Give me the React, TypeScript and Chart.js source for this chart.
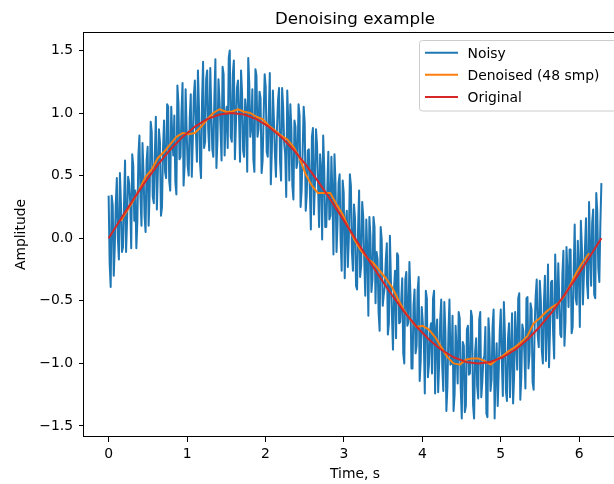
import React, { useEffect, useRef } from 'react';
import { Chart, registerables } from 'chart.js';

Chart.register(...registerables);

// ---- text ----
const TITLE = 'Denoising example';
const X_LABEL = 'Time, s';
const Y_LABEL = 'Amplitude';
const SERIES_NAMES = ['Noisy', 'Denoised (48 smp)', 'Original'];
const SERIES_COLORS = ['#1f77b4', '#ff7f0e', '#d62728'];

// ---- axes ----
const X_TICKS = [0, 1, 2, 3, 4, 5, 6];
const Y_TICKS = [-1.5, -1.0, -0.5, 0.0, 0.5, 1.0, 1.5];
const X_MIN = -0.314;
const X_MAX = 6.597;
const Y_MIN = -1.588;
const Y_MAX = 1.647;

// ---- time grids (start, end of each series) ----
const NOISY_SPAN = [0, 6.2832];
const DENOISED_SPAN = [0.157, 6.126];
const ORIGINAL_SPAN = [0, 6.2832];

// ---- series values ----
const noisy = [
  0.34, -0.20, -0.39, 0.34, 0.26, -0.30, -0.07, 0.28, 0.48, 0.00, -0.17, 0.52, 0.28, -0.11, -0.07, 0.27, 0.62, -0.11, 0.15, 0.49,
  0.44, 0.29, -0.08, 0.67, 0.58, 0.14, 0.38, -0.08, 0.14, 0.66, 0.82, 0.34, 0.10, 0.76, 0.52, 0.18, 0.05, 0.62, 0.73, 0.10,
  0.38, 0.93, 0.85, 0.33, 0.28, 0.67, 0.97, 0.23, 0.54, 0.87, 0.77, 0.18, 0.25, 0.72, 0.94, 0.53, 0.48, 1.07, 1.05, 0.46,
  0.38, 1.05, 0.81, 0.66, 0.98, 0.45, 0.35, 1.22, 1.08, 0.63, 0.65, 1.01, 1.24, 0.42, 0.58, 1.19, 0.86, 0.58, 0.50, 0.96,
  1.15, 0.49, 0.78, 1.14, 1.26, 0.86, 0.61, 1.34, 1.05, 0.61, 0.48, 1.10, 1.41, 0.72, 0.77, 1.27, 1.34, 0.87, 0.70, 1.36,
  1.03, 0.71, 0.65, 1.12, 1.43, 0.56, 0.78, 1.27, 1.10, 0.88, 0.62, 1.37, 1.31, 0.66, 0.97, 1.05, 0.72, 1.44, 1.50, 0.81,
  0.77, 1.31, 1.42, 0.63, 0.91, 1.20, 1.26, 0.98, 0.61, 1.34, 1.16, 0.70, 0.65, 1.11, 1.01, 0.53, 1.44, 1.24, 0.81, 0.89,
  1.19, 0.63, 0.53, 1.35, 1.30, 0.81, 0.87, 1.17, 1.12, 0.52, 0.62, 0.98, 1.31, 1.21, 0.69, 0.65, 0.99, 1.32, 0.43, 0.70,
  1.18, 0.95, 0.67, 0.49, 0.88, 1.10, 1.20, 0.61, 0.46, 1.20, 1.05, 0.76, 0.67, 0.33, 1.18, 0.93, 0.46, 1.07, 0.88, 0.42,
  0.31, 0.94, 0.89, 0.56, 0.61, 1.07, 0.98, 0.25, 0.38, 0.69, 1.05, 0.92, 0.22, 0.35, 0.70, 0.71, 0.39, 0.07, 0.81, 0.88,
  0.19, 0.44, 0.87, 0.75, 0.43, 0.09, 0.67, 0.55, -0.01, 0.82, 0.56, 0.09, 0.09, 0.39, 0.69, 0.15, 0.18, 0.65, 0.35, -0.13,
  0.67, 0.44, -0.11, 0.13, 0.44, 0.51, -0.01, -0.26, 0.46, 0.36, -0.32, 0.13, 0.22, -0.23, 0.00, 0.51, 0.42, -0.11, -0.26, 0.27,
  0.16, -0.38, -0.41, 0.08, 0.38, -0.31, -0.22, 0.29, 0.17, -0.18, -0.46, 0.15, -0.11, -0.62, 0.17, 0.02, -0.43, -0.33, 0.17, 0.09,
  -0.52, -0.11, -0.17, -0.60, -0.74, 0.09, -0.01, -0.54, -0.45, -0.39, -0.17, -0.04, -0.77, -0.68, 0.02, -0.34, -0.63, -0.89, -0.40, -0.26,
  -0.80, -0.12, -0.14, -0.68, -0.67, -0.50, -0.32, -0.92, -1.00, -0.33, -0.27, -0.70, -0.67, -0.19, -0.46, -1.04, -1.04, -0.54, -0.41, -0.92,
  -0.86, -0.42, -0.31, -1.14, -0.98, -0.55, -0.67, -0.81, -1.24, -0.42, -0.48, -1.11, -1.01, -0.74, -0.68, -1.08, -0.48, -0.42, -1.24, -0.75,
  -0.65, -1.23, -0.99, -0.65, -0.49, -1.03, -1.22, -0.51, -0.74, -1.38, -1.19, -0.76, -0.49, -1.01, -1.00, -0.62, -1.38, -1.25, -0.70, -0.91,
  -1.16, -0.59, -0.64, -1.20, -1.44, -0.83, -0.86, -1.39, -1.34, -0.73, -0.70, -1.09, -1.08, -0.58, -0.63, -1.33, -1.44, -0.91, -0.80, -1.18,
  -1.28, -0.65, -0.59, -1.27, -1.15, -0.97, -0.94, -0.71, -1.40, -1.43, -0.64, -0.80, -1.22, -1.13, -0.71, -0.57, -1.44, -1.04, -0.84, -1.34,
  -1.06, -0.74, -0.57, -0.97, -1.26, -0.51, -0.76, -1.22, -1.30, -0.81, -0.68, -1.27, -0.89, -0.60, -1.32, -1.10, -0.59, -0.82, -1.05, -0.48,
  -0.44, -1.29, -1.11, -0.69, -0.74, -0.92, -1.20, -0.48, -0.47, -1.04, -0.92, -0.52, -0.57, -1.15, -1.21, -0.70, -0.46, -0.33, -0.78, -0.87,
  -0.34, -0.49, -0.90, -1.00, -0.52, -0.30, -0.98, -0.69, -0.21, -1.03, -0.71, -0.35, -0.34, -0.76, -0.96, -0.13, -0.47, -0.64, -0.20, -0.49,
  -0.77, -0.79, -0.29, -0.10, -0.86, -0.67, -0.07, -0.28, -0.55, -0.09, -0.09, -0.76, -0.71, -0.26, 0.11, -0.48, -0.53, -0.02, -0.24, -0.71,
  0.14, -0.07, -0.53, -0.29, -0.08, 0.16, -0.36, -0.48, 0.29, -0.10, -0.38, 0.12, 0.23, -0.45, -0.48, 0.36, 0.21, -0.24, -0.35, 0.11,
  0.44,
];

const denoised = [
  0.14, 0.22, 0.30, 0.39, 0.49, 0.55, 0.64, 0.69, 0.75, 0.81,
  0.84, 0.83, 0.84, 0.89, 0.95, 1.00, 1.03, 1.01, 1.01, 1.03,
  1.01, 1.00, 0.97, 0.95, 0.90, 0.86, 0.82, 0.79, 0.73, 0.64,
  0.51, 0.42, 0.36, 0.36, 0.36, 0.27, 0.19, 0.08, -0.02, -0.10,
  -0.16, -0.20, -0.26, -0.32, -0.39, -0.49, -0.58, -0.65, -0.71, -0.70,
  -0.73, -0.79, -0.87, -0.95, -1.00, -1.01, -0.97, -0.96, -0.96, -0.98,
  -1.01, -0.97, -0.94, -0.90, -0.87, -0.83, -0.78, -0.68, -0.64, -0.59,
  -0.55, -0.52, -0.46, -0.37, -0.27, -0.19, -0.12,
];

const original = [
  0.0, 0.156, 0.309, 0.454, 0.588, 0.707, 0.809, 0.891, 0.951, 0.988,
  1.0, 0.988, 0.951, 0.891, 0.809, 0.707, 0.588, 0.454, 0.309, 0.156,
  0.0, -0.156, -0.309, -0.454, -0.588, -0.707, -0.809, -0.891, -0.951, -0.988,
  -1.0, -0.988, -0.951, -0.891, -0.809, -0.707, -0.588, -0.454, -0.309, -0.156,
  0.0,
];

const FONT = 'DejaVu Sans';

function toPoints(values: number[], span: number[]) {
  const n = values.length;
  return values.map((y, i) => ({ x: span[0] + ((span[1] - span[0]) * i) / (n - 1), y }));
}

function fmtY(v: number) {
  const s = Math.abs(v).toFixed(1);
  return v < 0 ? '\u2212' + s : s;
}

const framePlugin = {
  id: 'mplFrame',
  afterDraw(chart: any) {
    const { ctx, chartArea: a } = chart;
    ctx.save();
    // spines
    ctx.strokeStyle = '#000000';
    ctx.lineWidth = 1;
    ctx.strokeRect(a.left - 0.5, a.top + 0.5, a.right - a.left, a.bottom - a.top - 1);
    // title
    ctx.fillStyle = '#000000';
    ctx.font = `16.7px "${FONT}"`;
    ctx.textAlign = 'center';
    ctx.textBaseline = 'alphabetic';
    ctx.fillText(TITLE, (a.left + a.right) / 2, a.top - 8.3);
    // legend
    const bx = 419.5, by = 40.5, bw = 200, bh = 70.5, r = 3;
    ctx.beginPath();
    ctx.moveTo(bx + r, by);
    ctx.lineTo(bx + bw - r, by);
    ctx.quadraticCurveTo(bx + bw, by, bx + bw, by + r);
    ctx.lineTo(bx + bw, by + bh - r);
    ctx.quadraticCurveTo(bx + bw, by + bh, bx + bw - r, by + bh);
    ctx.lineTo(bx + r, by + bh);
    ctx.quadraticCurveTo(bx, by + bh, bx, by + bh - r);
    ctx.lineTo(bx, by + r);
    ctx.quadraticCurveTo(bx, by, bx + r, by);
    ctx.closePath();
    ctx.fillStyle = 'rgba(255,255,255,0.8)';
    ctx.fill();
    ctx.strokeStyle = '#cccccc';
    ctx.stroke();
    ctx.font = `13.9px "${FONT}"`;
    ctx.textAlign = 'left';
    ctx.textBaseline = 'alphabetic';
    const ds = chart.data.datasets;
    const rowY = [52.7, 74.8, 97];
    ds.forEach((d: any, i: number) => {
      const y = rowY[i];
      ctx.strokeStyle = d.borderColor;
      ctx.lineWidth = 2;
      ctx.beginPath();
      ctx.moveTo(425, y);
      ctx.lineTo(458, y);
      ctx.stroke();
      ctx.fillStyle = '#000000';
      ctx.fillText(d.label, 467.5, y + 5.1);
    });
    ctx.restore();
  },
};

export default function App() {
  const ref = useRef<HTMLCanvasElement | null>(null);
  useEffect(() => {
    if (!ref.current) return;
    const mk = (i: number, values: number[], span: number[], order: number) => ({
      label: SERIES_NAMES[i],
      data: toPoints(values, span),
      borderColor: SERIES_COLORS[i],
      backgroundColor: SERIES_COLORS[i],
      borderWidth: 2,
      pointRadius: 0,
      pointHoverRadius: 0,
      tension: 0,
      fill: false,
      order,
      borderJoinStyle: 'round' as const,
      borderCapStyle: 'butt' as const,
    });
    const chart = new Chart(ref.current, {
      type: 'line',
      data: {
        datasets: [
          mk(0, noisy, NOISY_SPAN, 3),
          mk(1, denoised, DENOISED_SPAN, 2),
          mk(2, original, ORIGINAL_SPAN, 1),
        ],
      },
      options: {
        animation: false,
        responsive: false,
        devicePixelRatio: 1,
        parsing: false as any,
        normalized: true,
        layout: { padding: { left: 0, top: 32, right: 14, bottom: 0 } },
        plugins: {
          legend: { display: false },
          title: { display: false },
          tooltip: { enabled: false },
        },
        events: [],
        scales: {
          x: {
            type: 'linear',
            min: X_MIN,
            max: X_MAX,
            afterFit: (s: any) => { s.height = 47; },
            afterBuildTicks: (s: any) => { s.ticks = X_TICKS.map((v) => ({ value: v })); },
            border: { display: false },
            grid: { drawOnChartArea: false, drawTicks: true, tickLength: 5, tickColor: '#000000', tickWidth: 1 },
            ticks: {
              color: '#000000',
              padding: 3.7,
              font: { family: FONT, size: 13.9 },
              autoSkip: false,
              maxRotation: 0,
              callback: (v: any) => String(v),
            },
            title: {
              display: true,
              text: X_LABEL,
              color: '#000000',
              font: { family: FONT, size: 13.9 },
              padding: { top: 0, bottom: 1 },
            },
          },
          y: {
            type: 'linear',
            min: Y_MIN,
            max: Y_MAX,
            afterFit: (s: any) => { s.width = 84; },
            afterBuildTicks: (s: any) => { s.ticks = Y_TICKS.map((v) => ({ value: v })); },
            border: { display: false },
            grid: { drawOnChartArea: false, drawTicks: true, tickLength: 5, tickColor: '#000000', tickWidth: 1 },
            ticks: {
              color: '#000000',
              padding: 6,
              font: { family: FONT, size: 13.9 },
              autoSkip: false,
              callback: (v: any) => fmtY(Number(v)),
            },
            title: {
              display: true,
              text: Y_LABEL,
              color: '#000000',
              font: { family: FONT, size: 13.9 },
              padding: { top: 12.7, bottom: 0 },
            },
          },
        },
      },
      plugins: [framePlugin],
    });
    return () => chart.destroy();
  }, []);

  return (
    <div
      style={{
        position: 'absolute',
        left: 0,
        top: 0,
        width: 614,
        height: 484,
        overflow: 'hidden',
        background: '#ffffff',
      }}
    >
      <canvas ref={ref} width={640} height={484} style={{ display: 'block', width: 640, height: 484 }} />
    </div>
  );
}
